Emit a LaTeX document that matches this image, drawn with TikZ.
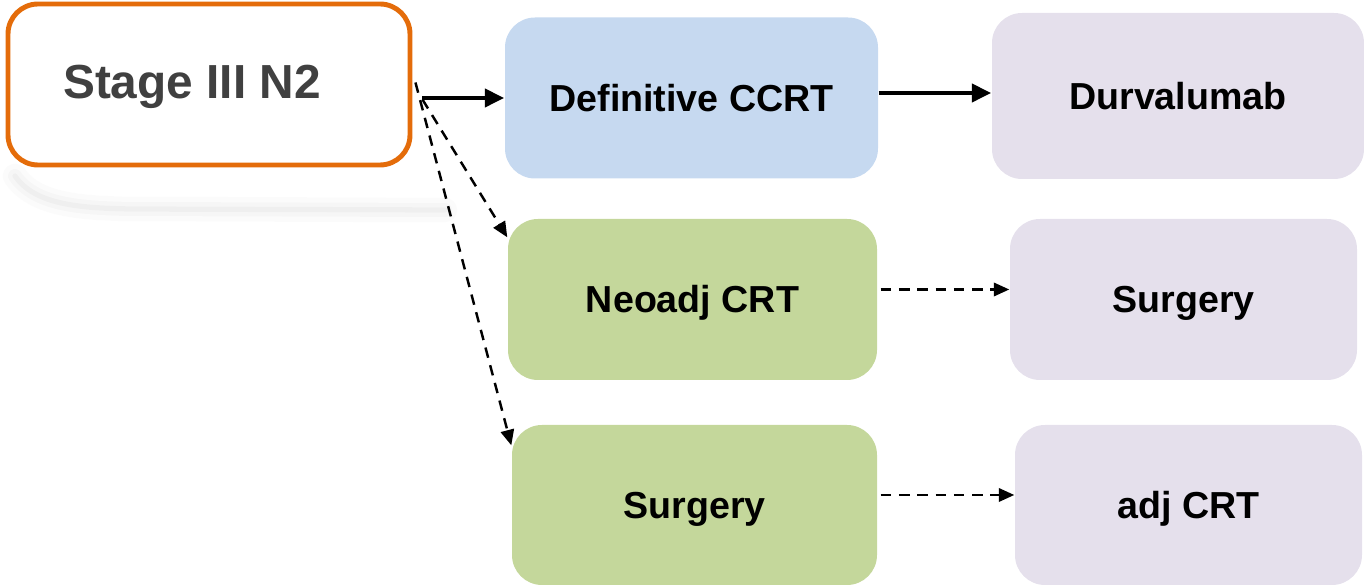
\documentclass[tikz,border=0pt]{standalone}
\usepackage{fontspec}
\setmainfont{Liberation Sans}
\usetikzlibrary{arrows.meta}
\definecolor{stageorange}{RGB}{228,108,10}
\definecolor{stagegray}{RGB}{64,64,64}
\definecolor{ccrtblue}{RGB}{198,217,240}
\definecolor{crtgreen}{RGB}{196,215,155}
\definecolor{nextlilac}{RGB}{229,224,236}
\begin{document}
\begin{tikzpicture}[
    box/.style={rounded corners=0.3cm,minimum height=1.61cm,inner sep=0pt,
      text height=7.66pt,text depth=0pt,
      font=\fontsize{10.7}{12}\selectfont\bfseries},
    stagebox/.style={draw=stageorange,line width=1.4pt,rounded corners=0.3cm,
      fill=white,minimum width=4.02cm,minimum height=1.61cm},
    mainarr/.style={line width=1.4pt,-{Triangle[length=5.5pt,width=5pt]}},
    optarr/.style={line width=0.7pt,dash pattern=on 3pt off 2.2pt,
      -{Triangle[length=4.4pt,width=3.8pt]}}
  ]
  \useasboundingbox (0,0) rectangle (13.64,-5.87);
  % faint shadow under the stage box
  \foreach \w/\o in {7pt/0.03,4pt/0.04,1.5pt/0.06}
    \draw[gray,line width=\w,opacity=\o,line cap=round]
      (0.15,-1.76) .. controls (0.35,-2.05) and (0.8,-2.08) .. (1.3,-2.09) -- (4.45,-2.1);
  \node[stagebox] (stage) at (2.09,-0.845) {};
  \node[font=\fontsize{13.6}{16}\selectfont\bfseries,text=stagegray,
    text height=9.75pt,text depth=0pt,inner sep=0pt] (stagetxt)
    at (1.92,-0.815) {Stage III N2};

  \node[box,fill=ccrtblue,minimum width=3.73cm] (ccrt) at (6.915,-0.98) {Definitive CCRT};
  \node[box,fill=nextlilac,minimum width=3.72cm,minimum height=1.66cm] (durva) at (11.78,-0.96) {Durvalumab};
  \node[box,fill=crtgreen,minimum width=3.69cm] (neoadj) at (6.925,-2.995) {Neoadj CRT};
  \node[box,fill=nextlilac,minimum width=3.47cm] (surgA) at (11.835,-2.995) {Surgery};
  \node[box,fill=crtgreen,minimum width=3.65cm,minimum height=1.6cm] (surgB) at (6.945,-5.05) {Surgery};
  \node[box,fill=nextlilac,minimum width=3.47cm,minimum height=1.6cm] (adjcrt) at (11.885,-5.05) {adj CRT};

  \draw[mainarr,shorten <=0.1cm] (ccrt.west -| stage.east) -- (ccrt.west);
  \draw[mainarr] ([yshift=0.05cm]ccrt.east) -- ([yshift=0.05cm]ccrt.east -| durva.west);
  \draw[optarr] ([shift={(0.1,-0.15)}]stage.east) -- ([yshift=-0.19cm]neoadj.north west);
  \draw[optarr] ([shift={(0.03,0.02)}]stage.east) -- ([yshift=-0.21cm]surgB.north west);
  \draw[optarr] ([shift={(0.03,0.1)}]neoadj.east) -- ([yshift=0.1cm]neoadj.east -| surgA.west);
  \draw[optarr] ([shift={(0.03,0.1)}]surgB.east) -- ([yshift=0.1cm]surgB.east -| adjcrt.west);
\end{tikzpicture}
\end{document}
